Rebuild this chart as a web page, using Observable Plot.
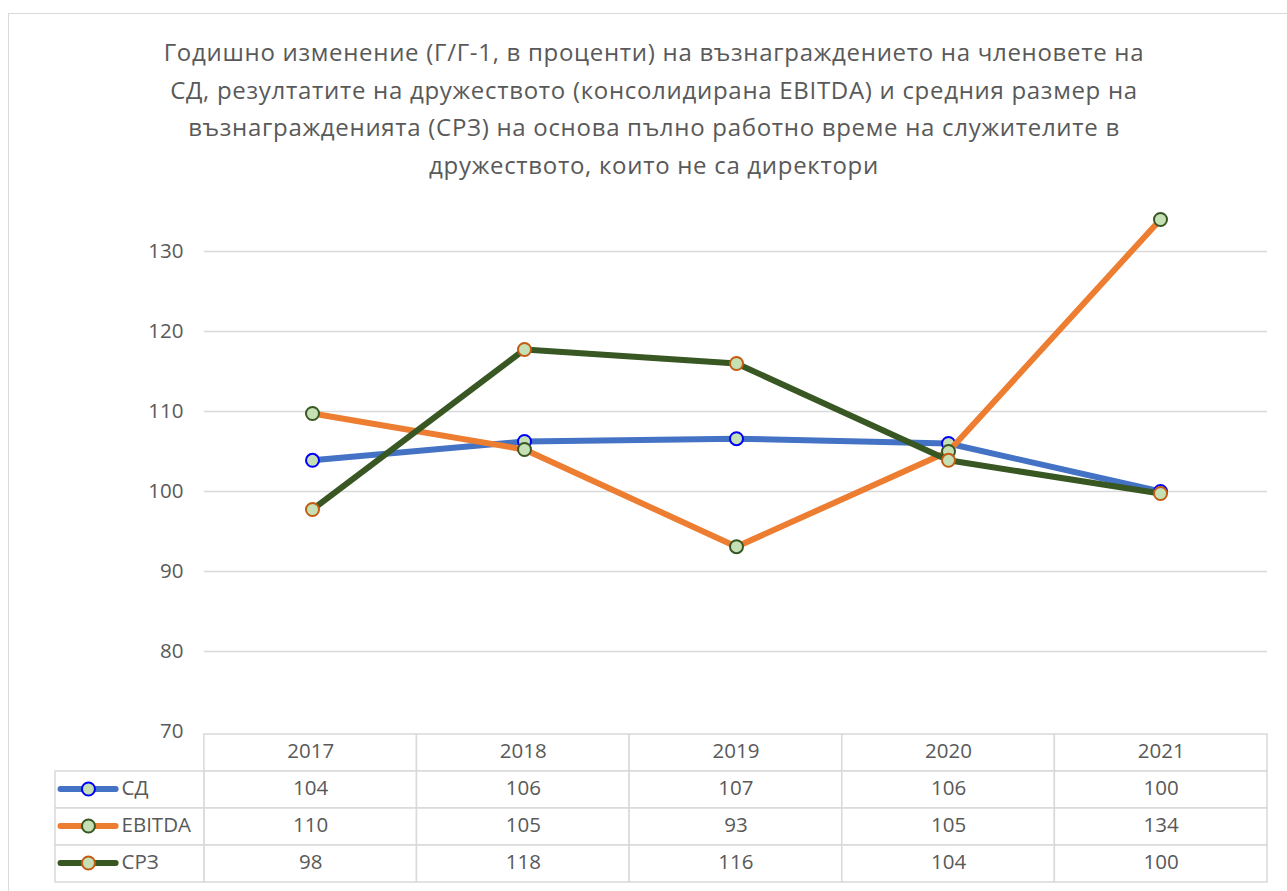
<!DOCTYPE html>
<html>
<head>
<meta charset="utf-8">
<script src="https://cdn.jsdelivr.net/npm/d3@7"></script>
<script src="https://cdn.jsdelivr.net/npm/@observablehq/plot@0.6"></script>
<style>
  html, body { margin: 0; padding: 0; background: #fff; overflow: hidden; }
  #page { position: relative; width: 1287px; height: 891px; overflow: hidden; background: #fff; }
  #frame { position: absolute; left: 8px; top: 13px; width: 1300px; height: 900px; border: 1.5px solid #d9d9d9; box-sizing: border-box; }
  #title { position: absolute; left: 0; top: 33px; width: 1308px; text-align: center; font-family: "Open Sans", sans-serif; font-size: 24px; letter-spacing: 0.7px; line-height: 37.5px; color: #595959; }
  .layer { position: absolute; left: 0; }
</style>
</head>
<body>
<div id="page">
  <div id="frame"></div>
  <div id="chart" class="layer" style="top:0"></div>
  <div id="table" class="layer" style="top:733px"></div>
  <div id="title"></div>
</div>
<script>
const titleLines = [
  "Годишно изменение (Г/Г-1, в проценти) на възнаграждението на членовете на",
  "СД, резултатите на дружеството (консолидирана EBITDA) и средния размер на",
  "възнагражденията (СРЗ) на основа пълно работно време на служителите в",
  "дружеството, които не са директори"
];
const years = [2017, 2018, 2019, 2020, 2021];
const seriesNames = ["СД", "EBITDA", "СРЗ"];
const sdValues = [103.9, 106.25, 106.6, 106.0, 100.0];
const ebitdaValues = [109.75, 105.25, 93.1, 105.0, 134.0];
const srzValues = [97.75, 117.75, 116.0, 103.9, 99.75];
const yTicks = [70, 80, 90, 100, 110, 120, 130];

const lineColors = ["#4472C4", "#ED7D31", "#385723"];
const markerStrokes = ["#0000FF", "#385723", "#C55A11"];
const markerFill = "#C5E0B4";
const textColor = "#595959";
const gridColor = "#d9d9d9";
const font = "'Open Sans', sans-serif";
const fs = 20.5;

document.getElementById("title").innerHTML = titleLines.join("<br>");

const allValues = [sdValues, ebitdaValues, srzValues];
const series = seriesNames.map((name, s) =>
  years.map((year, i) => ({series: name, year, value: allValues[s][i]}))
);

const seriesMarks = series.flatMap((data, s) => [
  Plot.line(data, {x: "year", y: "value", stroke: lineColors[s], strokeWidth: 6, strokeLinecap: "round", strokeLinejoin: "round"}),
  Plot.dot(data, {x: "year", y: "value", r: 6.5, fill: markerFill, stroke: markerStrokes[s], strokeWidth: 2})
]);

const chart = Plot.plot({
  width: 1287,
  height: 733,
  marginTop: 195,
  marginBottom: 2,
  marginLeft: 204,
  marginRight: 20,
  style: {background: "transparent", fontFamily: font, fontSize: fs + "px", overflow: "visible"},
  x: {type: "point", domain: years, padding: 0.5, axis: null},
  y: {domain: [70, 137], axis: null, label: null},
  marks: [
    Plot.ruleY(yTicks.filter(v => v > 70), {stroke: gridColor, strokeWidth: 1.5}),
    Plot.axisY({ticks: yTicks, tickSize: 0, tickPadding: 21, fontSize: fs, fill: textColor, label: null}),
    ...seriesMarks
  ]
});
document.getElementById("chart").append(chart);

// Data table below the chart
const legendWidth = 0.7; // legend column width in column units
const rows = ["header", ...seriesNames];
const headerCells = years.map((year, i) => ({row: "header", col: i, label: String(year)}));
const valueCells = seriesNames.flatMap((name, s) =>
  years.map((year, i) => ({row: name, col: i, label: d3.format(".0f")(allValues[s][i])}))
);
const cells = [...headerCells, ...valueCells];
const legendCells = seriesNames.map((name, s) => ({row: name, s}));

const table = Plot.plot({
  width: 1287,
  height: 151,
  marginTop: 0,
  marginBottom: 1,
  marginLeft: 55,
  marginRight: 20,
  style: {background: "transparent", fontFamily: font, fontSize: fs + "px", overflow: "visible"},
  x: {type: "linear", domain: [-legendWidth, years.length], axis: null},
  y: {type: "band", domain: rows, padding: 0, axis: null},
  marks: [
    Plot.rect(cells, {x1: d => d.col, x2: d => d.col + 1, y: "row", fill: "white", stroke: gridColor, strokeWidth: 1.5}),
    Plot.rect(legendCells, {x1: -legendWidth, x2: 0, y: "row", fill: "white", stroke: gridColor, strokeWidth: 1.5}),
    Plot.text(cells, {x: d => d.col + 0.5, y: "row", text: "label", fill: textColor, fontSize: fs, dy: -2}),
    Plot.ruleY(legendCells, {y: "row", x1: -legendWidth + 0.026, x2: -legendWidth + 0.285, dy: -1, stroke: d => lineColors[d.s], strokeWidth: 6, strokeLinecap: "round"}),
    Plot.dot(legendCells, {x: -legendWidth + 0.155, y: "row", dy: -1, r: 6.5, fill: markerFill, stroke: d => markerStrokes[d.s], strokeWidth: 2}),
    Plot.text(legendCells, {x: -legendWidth, y: "row", text: "row", dx: 66, dy: -2, textAnchor: "start", fill: textColor, fontSize: fs})
  ]
});
document.getElementById("table").append(table);
</script>
</body>
</html>
